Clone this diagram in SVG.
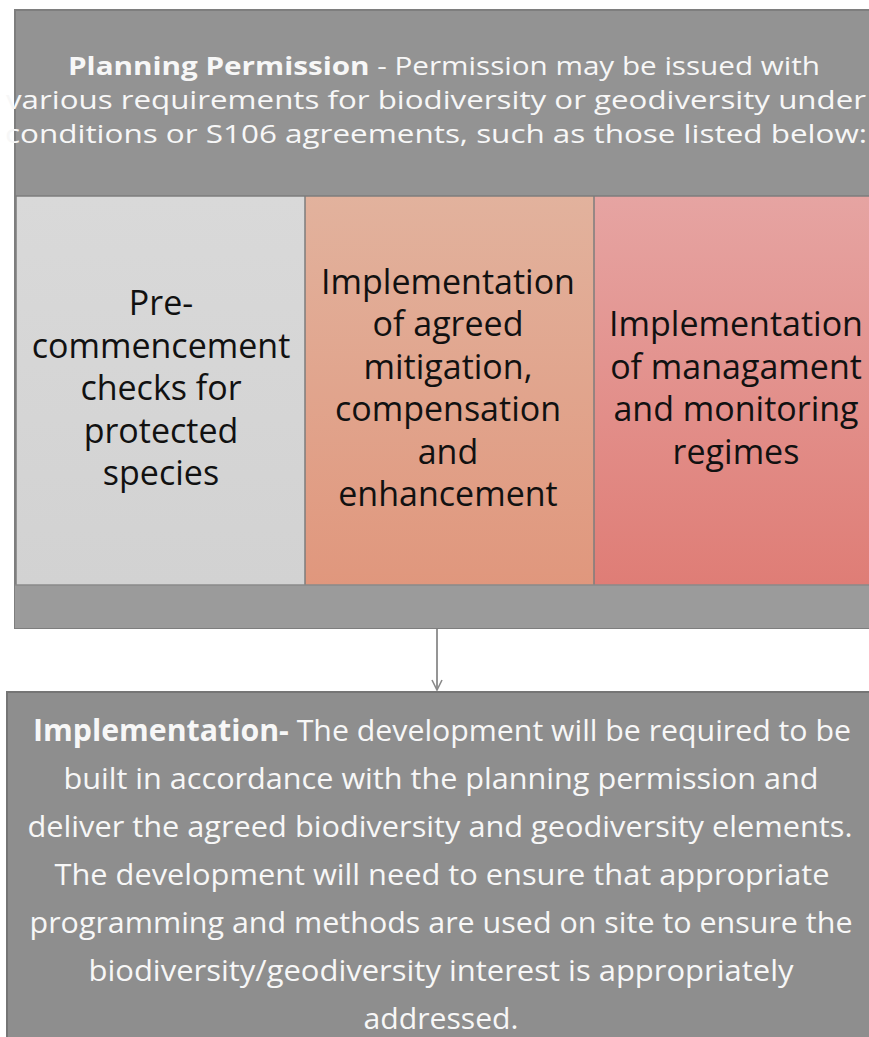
<svg xmlns="http://www.w3.org/2000/svg" width="869" height="1037" viewBox="0 0 869 1037">
<defs>
<linearGradient id="g1" x1="0" y1="0" x2="0" y2="1"><stop offset="0" stop-color="#d9d9d9"/><stop offset="1" stop-color="#d2d2d2"/></linearGradient>
<linearGradient id="g2" x1="0" y1="0" x2="0" y2="1"><stop offset="0" stop-color="#e2b29d"/><stop offset="1" stop-color="#e0977d"/></linearGradient>
<linearGradient id="g3" x1="0" y1="0" x2="0" y2="1"><stop offset="0" stop-color="#e6a4a2"/><stop offset="1" stop-color="#df7d76"/></linearGradient>
<marker id="arr" viewBox="0 0 12 12" refX="11" refY="6" markerWidth="12" markerHeight="12" markerUnits="userSpaceOnUse" orient="auto">
<path d="M1,1 L11,6 L1,11" fill="none" stroke="#8a8a8a" stroke-width="1.6"/>
</marker>
<style>
.wt{font-family:"Open Sans","Liberation Sans",sans-serif;fill:#f7f7f7;text-anchor:middle}
.bt{font-family:"Open Sans","Liberation Sans",sans-serif;fill:#111;text-anchor:middle;font-size:34px}
.b{font-weight:bold}
.div{stroke:#7c7c7c;stroke-width:1.5}
</style>
</defs>
<rect width="869" height="1037" fill="#ffffff"/>
<g id="planning-permission">
<rect x="15" y="10" width="860" height="618" fill="#939393" stroke="#7e7e7e" stroke-width="2"/>
<text class="wt" font-size="25"><tspan x="444" y="75" textLength="752" lengthAdjust="spacingAndGlyphs"><tspan class="b">Planning Permission</tspan> - Permission may be issued with</tspan></text>
<text class="wt" font-size="25" x="436" y="109" textLength="860" lengthAdjust="spacingAndGlyphs">various requirements for biodiversity or geodiversity under</text>
<text class="wt" font-size="25" x="436" y="143" textLength="862" lengthAdjust="spacingAndGlyphs">conditions or S106 agreements, such as those listed below:</text>
<rect x="15" y="585" width="860" height="43" fill="#9b9b9b"/>
</g>
<g id="pre-commencement">
<rect x="17" y="196" width="288" height="389" fill="url(#g1)"/>
<text class="bt"><tspan x="161" y="315">Pre-</tspan><tspan x="161" y="357.5">commencement</tspan><tspan x="161" y="400">checks for</tspan><tspan x="161" y="442.5">protected</tspan><tspan x="161" y="485">species</tspan></text>
</g>
<g id="mitigation">
<rect x="305" y="196" width="289" height="389" fill="url(#g2)"/>
<text class="bt"><tspan x="448" y="293.75">Implementation</tspan><tspan x="448" y="336.25">of agreed</tspan><tspan x="448" y="378.75">mitigation,</tspan><tspan x="448" y="421.25">compensation</tspan><tspan x="448" y="463.75">and</tspan><tspan x="448" y="506.25">enhancement</tspan></text>
</g>
<g id="management">
<rect x="594" y="196" width="275" height="389" fill="url(#g3)"/>
<text class="bt"><tspan x="736" y="336.25">Implementation</tspan><tspan x="736" y="378.75">of managament</tspan><tspan x="736" y="421.25">and monitoring</tspan><tspan x="736" y="463.75">regimes</tspan></text>
</g>
<g id="dividers">
<line class="div" x1="15" y1="196" x2="869" y2="196"/>
<line class="div" x1="305" y1="196" x2="305" y2="585"/>
<line class="div" x1="594" y1="196" x2="594" y2="585"/>
<line x1="15" y1="585" x2="869" y2="585" stroke="#8a8a8a" stroke-width="1.5"/>
</g>
<g id="connectors">
<line x1="437" y1="629" x2="437" y2="690" stroke="#8a8a8a" stroke-width="1.8" marker-end="url(#arr)"/>
</g>
<g id="implementation">
<rect x="7" y="692" width="870" height="350" fill="#8e8e8e" stroke="#757575" stroke-width="2"/>
<text class="wt" font-size="30"><tspan x="442" y="741" textLength="818" lengthAdjust="spacingAndGlyphs"><tspan class="b">Implementation-</tspan> The development will be required to be</tspan></text>
<text class="wt" font-size="30" x="441" y="789" textLength="755" lengthAdjust="spacingAndGlyphs">built in accordance with the planning permission and</text>
<text class="wt" font-size="30" x="440" y="837" textLength="825" lengthAdjust="spacingAndGlyphs">deliver the agreed biodiversity and geodiversity elements.</text>
<text class="wt" font-size="30" x="442" y="885" textLength="775" lengthAdjust="spacingAndGlyphs">The development will need to ensure that appropriate</text>
<text class="wt" font-size="30" x="441" y="933" textLength="823" lengthAdjust="spacingAndGlyphs">programming and methods are used on site to ensure the</text>
<text class="wt" font-size="30" x="441" y="981" textLength="705" lengthAdjust="spacingAndGlyphs">biodiversity/geodiversity interest is appropriately</text>
<text class="wt" font-size="30" x="441" y="1029" textLength="155" lengthAdjust="spacingAndGlyphs">addressed.</text>
</g>
</svg>
